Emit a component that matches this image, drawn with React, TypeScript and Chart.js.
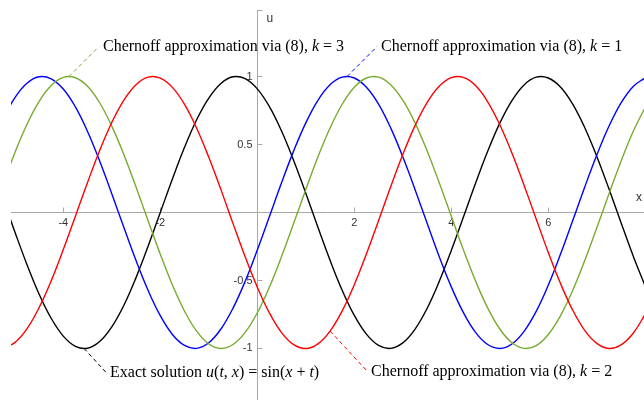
import React, { useEffect, useRef } from 'react';
import { Chart, registerables } from 'chart.js';

Chart.register(...registerables);

// Sample positions along x (shared by every curve)
const xs = [
  -5.25, -5.0, -4.75, -4.5, -4.25, -4.0, -3.75, -3.5, -3.25, -3.0, -2.75, -2.5, -2.25, -2.0,
  -1.75, -1.5, -1.25, -1.0, -0.75, -0.5, -0.25, 0.0, 0.25, 0.5, 0.75, 1.0, 1.25, 1.5,
  1.75, 2.0, 2.25, 2.5, 2.75, 3.0, 3.25, 3.5, 3.75, 4.0, 4.25, 4.5, 4.75, 5.0, 5.25, 5.5,
  5.75, 6.0, 6.25, 6.5, 6.75, 7.0, 7.25, 7.5, 7.75, 8.0,
];

// Exact solution u(t, x) = sin(x + t)
const exactU = [
  0.108, -0.141, -0.382, -0.599, -0.778, -0.909, -0.984, -0.998, -0.949, -0.841, -0.682, -0.479, -0.247, 0.0,
  0.247, 0.479, 0.682, 0.841, 0.949, 0.998, 0.984, 0.909, 0.778, 0.599, 0.382, 0.141, -0.108, -0.351,
  -0.572, -0.757, -0.895, -0.978, -0.999, -0.959, -0.859, -0.706, -0.508, -0.279, -0.033, 0.215, 0.45, 0.657,
  0.823, 0.938, 0.995, 0.989, 0.923, 0.799, 0.625, 0.412, 0.174, -0.075, -0.32, -0.544,
];

// Chernoff approximation via (8), k = 1
const chernoffK1 = [
  0.684, 0.843, 0.95, 0.998, 0.983, 0.908, 0.776, 0.596, 0.379, 0.138, -0.111, -0.354, -0.574, -0.759,
  -0.897, -0.978, -0.999, -0.958, -0.857, -0.703, -0.506, -0.276, -0.03, 0.218, 0.453, 0.659, 0.825, 0.939,
  0.995, 0.989, 0.921, 0.797, 0.622, 0.409, 0.171, -0.078, -0.323, -0.547, -0.737, -0.882, -0.971, -1.0,
  -0.967, -0.874, -0.727, -0.534, -0.308, -0.063, 0.186, 0.423, 0.634, 0.806, 0.927, 0.991,
];

// Chernoff approximation via (8), k = 2
const chernoffK2 = [
  -0.999, -0.957, -0.856, -0.701, -0.503, -0.273, -0.027, 0.221, 0.456, 0.662, 0.827, 0.94, 0.995, 0.988,
  0.92, 0.795, 0.62, 0.406, 0.168, -0.082, -0.326, -0.549, -0.739, -0.883, -0.972, -1.0, -0.966, -0.872,
  -0.724, -0.531, -0.305, -0.06, 0.189, 0.426, 0.637, 0.808, 0.928, 0.992, 0.993, 0.933, 0.814, 0.645,
  0.437, 0.2, -0.048, -0.294, -0.521, -0.716, -0.867, -0.963, -1.0, -0.974, -0.888, -0.747,
];

// Chernoff approximation via (8), k = 3
const chernoffK3 = [
  0.202, 0.438, 0.647, 0.815, 0.933, 0.993, 0.991, 0.928, 0.807, 0.635, 0.425, 0.187, -0.062, -0.307,
  -0.533, -0.726, -0.873, -0.967, -1.0, -0.971, -0.882, -0.738, -0.548, -0.324, -0.08, 0.169, 0.408, 0.621,
  0.796, 0.921, 0.989, 0.995, 0.94, 0.826, 0.661, 0.454, 0.22, -0.028, -0.275, -0.504, -0.702, -0.857,
  -0.958, -0.999, -0.979, -0.897, -0.76, -0.576, -0.355, -0.113, 0.136, 0.377, 0.595, 0.775,
];

const xTickValues = [-4, -2, 2, 4, 6];
const xTickLabels = ['-4', '-2', '2', '4', '6'];
const yTickValues = [-1, -0.5, 0.5, 1];
const yTickLabels = ['-1', '-0.5', '0.5', '1'];
const xAxisTitle = 'x';
const yAxisTitle = 'u';

type Part = [string, boolean];

// Callout texts (plain / italic runs)
const labelK3: Part[] = [['Chernoff approximation via (8), ', false], ['k', true], [' = 3', false]];
const labelK1: Part[] = [['Chernoff approximation via (8), ', false], ['k', true], [' = 1', false]];
const labelK2: Part[] = [['Chernoff approximation via (8), ', false], ['k', true], [' = 2', false]];
const labelExact: Part[] = [
  ['Exact solution ', false], ['u', true], ['(', false], ['t', true], [', ', false], ['x', true],
  [') = sin(', false], ['x', true], [' + ', false], ['t', true], [')', false],
];

// Points on the curves that the callouts point at (data coordinates)
const anchorK3 = { x: -3.883, y: 1 };
const anchorK1 = { x: 1.851, y: 1 };
const anchorExact = { x: -3.571, y: -1 };
const anchorK2 = { x: 1.5, y: -0.872 };

const COLORS = {
  exact: '#000000',
  k1: '#0000ff',
  k2: '#ff0000',
  k3: '#77ac30',
  axis: '#a8a8a8',
  tick: '#333333',
};

const SERIF = '"Liberation Serif", "Times New Roman", serif';
const SANS = '"Liberation Sans", Arial, sans-serif';

function drawRich(ctx: CanvasRenderingContext2D, parts: Part[], x: number, baseline: number, size: number) {
  let cx = x;
  ctx.textAlign = 'left';
  ctx.textBaseline = 'alphabetic';
  for (const [text, italic] of parts) {
    ctx.font = `${italic ? 'italic ' : ''}${size}px ${SERIF}`;
    ctx.fillText(text, cx, baseline);
    cx += ctx.measureText(text).width;
  }
}

const crisp = (v: number) => Math.round(v) + 0.5;

// Axes through the origin, ticks pointing inward, labels on the outside
const axesPlugin = {
  id: 'originAxes',
  beforeDatasetsDraw(chart: any) {
    const { ctx, chartArea, scales } = chart;
    const sx = scales.x;
    const sy = scales.y;
    const x0 = crisp(sx.getPixelForValue(0));
    const y0 = crisp(sy.getPixelForValue(0));
    ctx.save();
    ctx.strokeStyle = COLORS.axis;
    ctx.lineWidth = 1;
    ctx.beginPath();
    ctx.moveTo(chartArea.left, y0);
    ctx.lineTo(chartArea.right, y0);
    ctx.moveTo(x0, chartArea.top);
    ctx.lineTo(x0, chartArea.bottom);
    // small cap at the top end of the vertical axis
    ctx.moveTo(x0, crisp(chartArea.top));
    ctx.lineTo(x0 + 5, crisp(chartArea.top));
    xTickValues.forEach((v) => {
      const px = crisp(sx.getPixelForValue(v));
      ctx.moveTo(px, y0);
      ctx.lineTo(px, y0 - 5);
    });
    yTickValues.forEach((v) => {
      const py = crisp(sy.getPixelForValue(v));
      ctx.moveTo(x0, py);
      ctx.lineTo(x0 + 5, py);
    });
    ctx.stroke();

    ctx.fillStyle = COLORS.tick;
    ctx.font = `11px ${SANS}`;
    ctx.textAlign = 'center';
    ctx.textBaseline = 'top';
    xTickValues.forEach((v, i) => {
      ctx.fillText(xTickLabels[i], sx.getPixelForValue(v), y0 + 5);
    });
    ctx.textAlign = 'right';
    ctx.textBaseline = 'middle';
    yTickValues.forEach((v, i) => {
      ctx.fillText(yTickLabels[i], x0 - 5, sy.getPixelForValue(v));
    });
    ctx.textAlign = 'left';
    ctx.font = `12px ${SANS}`;
    ctx.fillText(yAxisTitle, x0 + 9, chartArea.top + 9);
    ctx.textAlign = 'right';
    ctx.fillText(xAxisTitle, chartArea.right - 2, y0 - 15);
    ctx.restore();
  },
};

// Dashed leader lines with their texts
const calloutPlugin = {
  id: 'callouts',
  afterDatasetsDraw(chart: any) {
    const { ctx, scales } = chart;
    const sx = scales.x;
    const sy = scales.y;
    const items = [
      { a: anchorK3, dx: 30, dy: -30, color: COLORS.k3, parts: labelK3 },
      { a: anchorK1, dx: 30, dy: -30, color: COLORS.k1, parts: labelK1 },
      { a: anchorExact, dx: 22, dy: 24, color: COLORS.exact, parts: labelExact },
      { a: anchorK2, dx: 37, dy: 40, color: COLORS.k2, parts: labelK2 },
    ];
    ctx.save();
    items.forEach((it) => {
      const ax = sx.getPixelForValue(it.a.x);
      const ay = sy.getPixelForValue(it.a.y);
      const ex = ax + it.dx;
      const ey = ay + it.dy;
      ctx.strokeStyle = it.color;
      ctx.lineWidth = 1;
      ctx.setLineDash([4, 3]);
      ctx.beginPath();
      ctx.moveTo(ax, ay);
      ctx.lineTo(ex, ey);
      ctx.stroke();
      ctx.setLineDash([]);
      ctx.fillStyle = '#000000';
      drawRich(ctx, it.parts, ex + 4, ey + 5, 16);
    });
    ctx.restore();
  },
};

function series(values: number[]) {
  return xs.map((x, i) => ({ x, y: values[i] }));
}

export default function App() {
  const canvasRef = useRef<HTMLCanvasElement | null>(null);

  useEffect(() => {
    const canvas = canvasRef.current;
    if (!canvas) return;
    const line = (label: string, values: number[], color: string) => ({
      label,
      data: series(values),
      borderColor: color,
      backgroundColor: color,
      borderWidth: 1.4,
      pointRadius: 0,
      tension: 0.4,
      fill: false,
    });
    const chart = new Chart(canvas, {
      type: 'line',
      data: {
        datasets: [
          line('Chernoff approximation via (8), k = 2', chernoffK2, COLORS.k2),
          line('Chernoff approximation via (8), k = 3', chernoffK3, COLORS.k3),
          line('Chernoff approximation via (8), k = 1', chernoffK1, COLORS.k1),
          line('Exact solution u(t,x) = sin(x+t)', exactU, COLORS.exact),
        ],
      },
      options: {
        responsive: false,
        maintainAspectRatio: false,
        animation: false,
        events: [],
        layout: { padding: { left: 11, top: 10, right: 0, bottom: 0 } },
        plugins: { legend: { display: false }, tooltip: { enabled: false } },
        scales: {
          x: { type: 'linear', min: -5.078, max: 7.973, display: false },
          y: { type: 'linear', min: -1.379, max: 1.489, display: false },
        },
      },
      plugins: [axesPlugin, calloutPlugin],
    });
    return () => chart.destroy();
  }, []);

  return (
    <div style={{ position: 'fixed', left: 0, top: 0, width: 644, height: 400, background: '#ffffff' }}>
      <canvas ref={canvasRef} width={644} height={400} style={{ display: 'block', width: 644, height: 400 }} />
    </div>
  );
}
